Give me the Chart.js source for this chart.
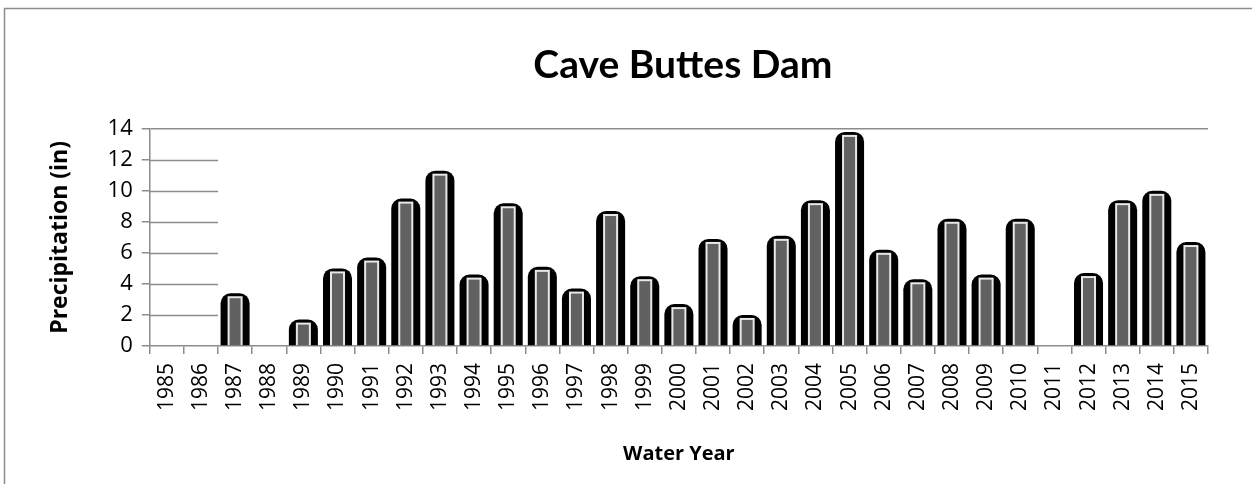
<!DOCTYPE html>
<html>
<head>
<meta charset="utf-8">
<script src="https://cdn.jsdelivr.net/npm/chart.js@4"></script>
<style>
  html, body { margin: 0; padding: 0; background: #fff; }
  #wrap { width: 1252px; height: 484px; }
</style>
</head>
<body>
<div id="wrap"><canvas id="precipChart"></canvas></div>
<script>
// data
const years = ['1985', '1986', '1987', '1988', '1989', '1990', '1991', '1992', '1993', '1994',
  '1995', '1996', '1997', '1998', '1999', '2000', '2001', '2002', '2003', '2004', '2005',
  '2006', '2007', '2008', '2009', '2010', '2011', '2012', '2013', '2014', '2015'];
const precip = [null, null, 3.4, null, 1.7, 5.0, 5.7, 9.5, 11.3, 4.6,
  9.2, 5.1, 3.7, 8.7, 4.5, 2.7, 6.9, 2.0, 7.1, 9.4, 13.8,
  6.2, 4.3, 8.2, 4.6, 8.2, null, 4.7, 9.4, 10.0, 6.7];
const yTicks = [0, 2, 4, 6, 8, 10, 12, 14];

const gridGray = '#8c8c8c';

// outer frame of the chart box
const frame = {
  id: 'frame',
  beforeDraw(chart) {
    const c = chart.ctx;
    c.save();
    c.fillStyle = '#fff';
    c.fillRect(0, 0, chart.width, chart.height);
    c.strokeStyle = gridGray;
    c.lineWidth = 1.5;
    c.strokeRect(4.5, 8.5, chart.width + 10, chart.height + 10);
    c.restore();
  }
};

// center the main title over the plot area rather than the whole canvas
const titleOverPlot = {
  id: 'titleOverPlot',
  afterLayout(chart) {
    if (chart.titleBlock) {
      chart.titleBlock.left = chart.chartArea.left + 4;
      chart.titleBlock.right = chart.chartArea.right + 4;
    }
  }
};

// short gridline stubs that only show over the first two (empty) categories
const stubs = {
  id: 'stubs',
  beforeDatasetsDraw(chart) {
    const x = chart.scales.x, y = chart.scales.y, c = chart.ctx;
    const end = (x.getPixelForValue(1) + x.getPixelForValue(2)) / 2;
    c.save();
    c.strokeStyle = gridGray;
    c.lineWidth = 1.5;
    yTicks.slice(1, -1).forEach(v => {
      const py = Math.round(y.getPixelForValue(v)) + 0.5;
      c.beginPath();
      c.moveTo(chart.chartArea.left, py);
      c.lineTo(end, py);
      c.stroke();
    });
    c.restore();
  }
};

// gray core with a light outline inside each black bar
const bevel = {
  id: 'bevel',
  afterDatasetsDraw(chart) {
    const c = chart.ctx;
    chart.getDatasetMeta(0).data.forEach((bar, i) => {
      if (precip[i] == null) return;
      const { x, y, base, width } = bar.getProps(['x', 'y', 'base', 'width'], true);
      const side = 7, top = 3;
      const l = x - width / 2 + side, r = x + width / 2 - side;
      c.save();
      c.fillStyle = '#e8e8e8';
      c.fillRect(l, y + top, r - l, base - y - top);
      c.fillStyle = '#616161';
      c.fillRect(l + 2, y + top + 2, r - l - 4, base - y - top - 2);
      c.restore();
    });
  }
};

new Chart(document.getElementById('precipChart'), {
  type: 'bar',
  data: {
    labels: years,
    datasets: [{
      label: 'Precipitation',
      data: precip,
      backgroundColor: '#000',
      borderWidth: 0,
      borderRadius: { topLeft: 10, topRight: 10 },
      borderSkipped: 'bottom',
      barPercentage: 0.85,
      categoryPercentage: 1
    }]
  },
  options: {
    responsive: true,
    maintainAspectRatio: false,
    animation: false,
    layout: { padding: { left: 47, right: 44, top: 0, bottom: 14 } },
    plugins: {
      legend: { display: false },
      tooltip: { enabled: false },
      title: {
        display: true,
        text: 'Cave Buttes Dam',
        color: '#000',
        font: { family: 'Lato', size: 39, weight: 'bold' },
        padding: { top: 42, bottom: 40 }
      }
    },
    scales: {
      x: {
        grid: {
          offset: true,
          drawOnChartArea: false,
          color: gridGray,
          lineWidth: 1.5,
          tickLength: 8
        },
        border: { color: gridGray, width: 1.5 },
        ticks: {
          color: '#000',
          font: { family: 'Open Sans', size: 21 },
          minRotation: 90,
          maxRotation: 90,
          autoSkip: false,
          padding: 9
        },
        title: {
          display: true,
          text: 'Water Year',
          color: '#000',
          font: { family: 'Open Sans', size: 20, weight: 'bold' },
          padding: { top: 22 }
        }
      },
      y: {
        min: 0,
        max: 14,
        afterBuildTicks(axis) { axis.ticks = yTicks.map(v => ({ value: v })); },
        grid: {
          color: ctx => (ctx.tick && ctx.tick.value === 14 ? gridGray : 'rgba(0,0,0,0)'),
          lineWidth: 1.5,
          drawTicks: true,
          tickLength: 8,
          tickColor: gridGray
        },
        border: { color: gridGray, width: 1.5 },
        ticks: {
          color: '#000',
          font: { family: 'Open Sans', size: 22 },
          padding: 9
        },
        title: {
          display: true,
          text: 'Precipitation (in)',
          color: '#000',
          font: { family: 'Open Sans', size: 23, weight: 'bold' },
          padding: { top: 0, bottom: 24 }
        }
      }
    }
  },
  plugins: [frame, titleOverPlot, stubs, bevel]
});
</script>
</body>
</html>
